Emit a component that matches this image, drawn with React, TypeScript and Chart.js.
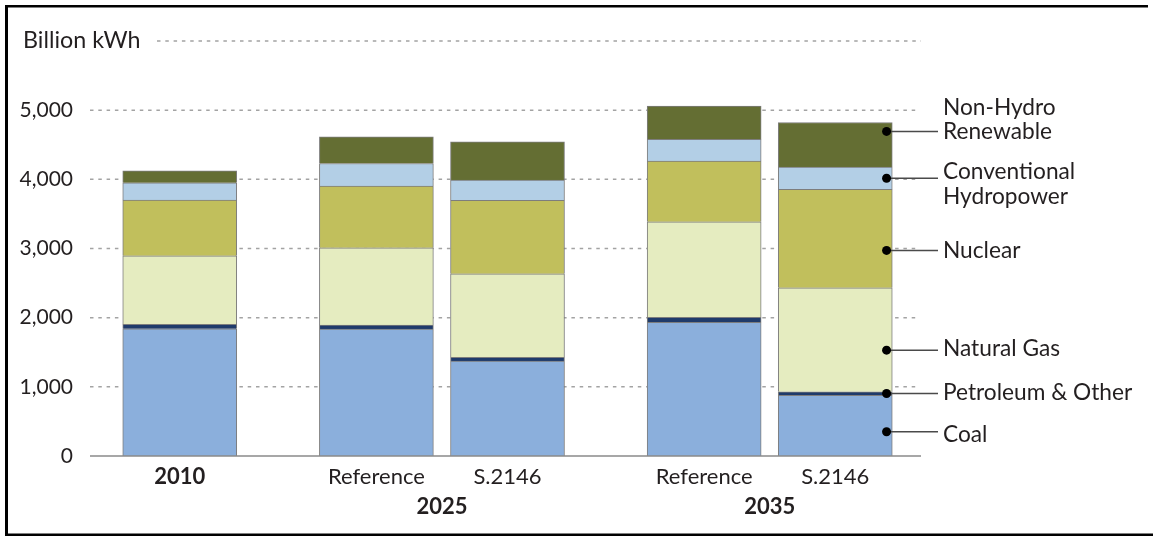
import React, { useEffect, useRef } from 'react';
import { Chart, registerables } from 'chart.js';

Chart.register(...registerables);

// ---------- data ----------
const barLabels = ['2010', 'Reference', 'S.2146', 'Reference', 'S.2146'];
const yearLabels = ['2010', '2025', '2035'];
const seriesNames = ['Coal', 'Petroleum & Other', 'Natural Gas', 'Nuclear', 'Conventional Hydropower', 'Non-Hydro Renewable'];
const coal = [1840, 1835, 1373, 1932, 877];
const petroleum = [63, 58, 53, 72, 52];
const naturalGas = [992, 1117, 1208, 1382, 1503];
const nuclear = [804, 892, 1061, 877, 1422];
const hydro = [250, 327, 293, 314, 322];
const nonHydro = [173, 386, 554, 481, 646];
const yTicks = [0, 1000, 2000, 3000, 4000, 5000, 6000];
const yAxisTitle = 'Billion kWh';

// ---------- layout / style ----------
const FONT = 'Lato';
const TEXT = '#231f20';
const SLOT_COUNT = 13;
const BAR_SLOTS = [1, 4, 6, 9, 11];
const YEAR_SLOTS = [1, 5, 10];
const COLORS = ['#8bafdc', '#1f3b6b', '#e5ecc0', '#c1bf5c', '#b3cfe6', '#646e33'];
const SERIES = [coal, petroleum, naturalGas, nuclear, hydro, nonHydro];
// annotation layout for the right-hand labels (bottom series first)
const LABEL_LINES = [['Coal'], ['Petroleum & Other'], ['Natural Gas'], ['Nuclear'], ['Conventional', 'Hydropower'], ['Non-Hydro', 'Renewable']];
const ANCHOR_FRAC = [0.4, 0.5, 0.4, 0.38, 0.5, 0.8];
const BASELINE_OFF = [10, 6.7, 5.7, 7.7, 1, -16.7];

const slotLabels: (string | string[])[] = Array.from({ length: SLOT_COUNT }, () => '');
BAR_SLOTS.forEach((s, i) => { slotLabels[s] = barLabels[i]; });
YEAR_SLOTS.forEach((s, i) => { if (slotLabels[s] === '') slotLabels[s] = ['', yearLabels[i]]; });

const toSlots = (vals: number[]) => {
  const arr: (number | null)[] = Array.from({ length: SLOT_COUNT }, () => null);
  BAR_SLOTS.forEach((s, i) => { arr[s] = vals[i]; });
  return arr;
};

const gridPlugin = {
  id: 'customGrid',
  beforeDatasetsDraw(chart: any) {
    const { ctx, scales } = chart;
    const y = scales.y;
    ctx.save();
    ctx.strokeStyle = '#a3a3a3';
    ctx.lineWidth = 1.5;
    ctx.setLineDash([3.5, 4.8]);
    yTicks.forEach((v) => {
      if (v === 0) return;
      const py = y.getPixelForValue(v);
      const x0 = v === 6000 ? 157 : 90;
      const x1 = v === 6000 ? 921 : 917;
      ctx.beginPath();
      ctx.moveTo(x0, py);
      ctx.lineTo(x1, py);
      ctx.stroke();
      if (v === 6000) {
        ctx.save();
        ctx.setLineDash([]);
        ctx.fillStyle = TEXT;
        ctx.font = `23.3px ${FONT}`;
        ctx.textAlign = 'left';
        ctx.textBaseline = 'alphabetic';
        ctx.fillText(yAxisTitle, 23, py + 7.2);
        ctx.restore();
      }
    });
    ctx.restore();
  },
  afterDatasetsDraw(chart: any) {
    const { ctx, scales } = chart;
    const py = scales.y.getPixelForValue(0);
    ctx.save();
    ctx.strokeStyle = '#8a8a8a';
    ctx.lineWidth = 1.5;
    ctx.beginPath();
    ctx.moveTo(90, py);
    ctx.lineTo(921, py);
    ctx.stroke();

    // right-hand labels with leader lines
    const lastIdx = BAR_SLOTS[BAR_SLOTS.length - 1];
    SERIES.forEach((_, i) => {
      const el = chart.getDatasetMeta(i).data[lastIdx];
      if (!el) return;
      const dotX = el.x + el.width / 2 - 5.7;
      const dotY = el.base - (el.base - el.y) * ANCHOR_FRAC[i];
      ctx.strokeStyle = '#4a4a4a';
      ctx.lineWidth = 1.5;
      ctx.beginPath();
      ctx.moveTo(dotX, dotY);
      ctx.lineTo(938, dotY);
      ctx.stroke();
      ctx.fillStyle = '#000';
      ctx.beginPath();
      ctx.arc(dotX, dotY, 4.5, 0, Math.PI * 2);
      ctx.fill();
      ctx.fillStyle = TEXT;
      ctx.font = `22.7px ${FONT}`;
      ctx.textAlign = 'left';
      ctx.textBaseline = 'alphabetic';
      LABEL_LINES[i].forEach((line, j) => {
        ctx.fillText(line, 943, dotY + BASELINE_OFF[i] + j * 24.5);
      });
    });
    ctx.restore();
  },
  afterDraw(chart: any) {
    const { ctx } = chart;
    ctx.save();
    ctx.fillStyle = '#000';
    ctx.fillRect(5, 5, 1143, 2.5);
    ctx.fillRect(5, 5, 3, 531);
    ctx.fillRect(5, 533.5, 1148, 2.5);
    ctx.restore();
  },
};

export default function App() {
  const ref = useRef<HTMLCanvasElement | null>(null);
  useEffect(() => {
    if (!ref.current) return;
    const chart = new Chart(ref.current, {
      type: 'bar',
      data: {
        labels: slotLabels as any,
        datasets: SERIES.map((vals, i) => ({
          label: seriesNames[i],
          data: toSlots(vals),
          backgroundColor: COLORS[i],
          borderColor: '#7d7d7d',
          borderWidth: 1,
          barThickness: 114,
        })),
      },
      options: {
        responsive: false,
        animation: false,
        devicePixelRatio: 1,
        layout: { padding: { top: 41, right: 219.4, bottom: 0, left: 0 } },
        plugins: { legend: { display: false }, tooltip: { enabled: false } },
        scales: {
          x: {
            type: 'category',
            stacked: true,
            offset: true,
            grid: { display: false, drawTicks: false },
            border: { display: false },
            ticks: {
              autoSkip: false,
              maxRotation: 0,
              minRotation: 0,
              padding: 6.5,
              color: TEXT,
              font: (c: any) => ({
                family: FONT,
                size: 22,
                weight: YEAR_SLOTS.includes(c.index) ? 'bold' : 'normal',
                lineHeight: 1.35,
              }),
            },
            afterFit: (s: any) => { s.height = 80; },
          },
          y: {
            stacked: true,
            min: 0,
            max: 6000,
            grid: { display: false, drawTicks: false },
            border: { display: false },
            afterBuildTicks: (s: any) => { s.ticks = yTicks.map((v) => ({ value: v })); },
            ticks: {
              padding: 8.4,
              color: TEXT,
              font: { family: FONT, size: 21 },
              callback: (v: any) => (Number(v) === 6000 ? '' : Number(v).toLocaleString('en-US')),
            },
            afterFit: (s: any) => { s.width = 81.4; },
          },
        },
      },
      plugins: [gridPlugin],
    });
    return () => chart.destroy();
  }, []);
  return (
    <div style={{ position: 'absolute', left: 0, top: 0, width: 1153, height: 536, background: '#fff' }}>
      <canvas ref={ref} width={1153} height={536} style={{ display: 'block', width: 1153, height: 536 }} />
    </div>
  );
}
